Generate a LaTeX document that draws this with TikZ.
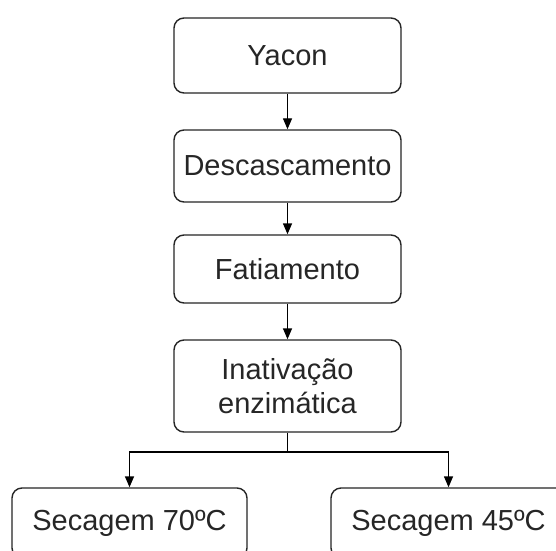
\documentclass[tikz,border=0pt]{standalone}
\usepackage{fontspec}
\setmainfont{Liberation Sans}
\usetikzlibrary{arrows.meta}
\begin{document}
\begin{tikzpicture}[x=1pt,y=1pt,
  stepbox/.style={draw=black!85, line width=1.4pt, rounded corners=10pt, fill=white,
    minimum width=227pt, inner sep=0pt, align=center,
    font=\fontsize{29}{34}\selectfont, text=black!85},
  flow/.style={draw=black, line width=1.4pt, -{Triangle[length=11pt,width=9pt]}}]
\clip (0,0) rectangle (556,550);
\fill[white] (0,0) rectangle (556,550);
\node[stepbox, minimum height=75pt] (yacon) at (287.5,494.5) {Yacon};
\node[stepbox, minimum height=72pt] (desc) at (287.5,384) {Descascamento};
\node[stepbox, minimum height=68pt] (fati) at (287.5,281) {Fatiamento};
\node[stepbox, minimum height=92pt] (inat) at (287.5,164) {Inativação\\enzimática};
\node[stepbox, minimum width=235pt, minimum height=70pt] (s70) at (129.5,27) {Secagem 70ºC};
\node[stepbox, minimum width=235pt, minimum height=70pt] (s45) at (448.5,27) {Secagem 45ºC};
\coordinate (j) at (287.5,98);
\draw[flow] (yacon) -- (desc);
\draw[flow] (desc) -- (fati);
\draw[flow] (fati) -- (inat);
\draw[line width=1.4pt] (inat.south) -- (j);
\draw[flow] (j) -| (s70.north);
\draw[flow] (j) -| (s45.north);
\end{tikzpicture}
\end{document}
